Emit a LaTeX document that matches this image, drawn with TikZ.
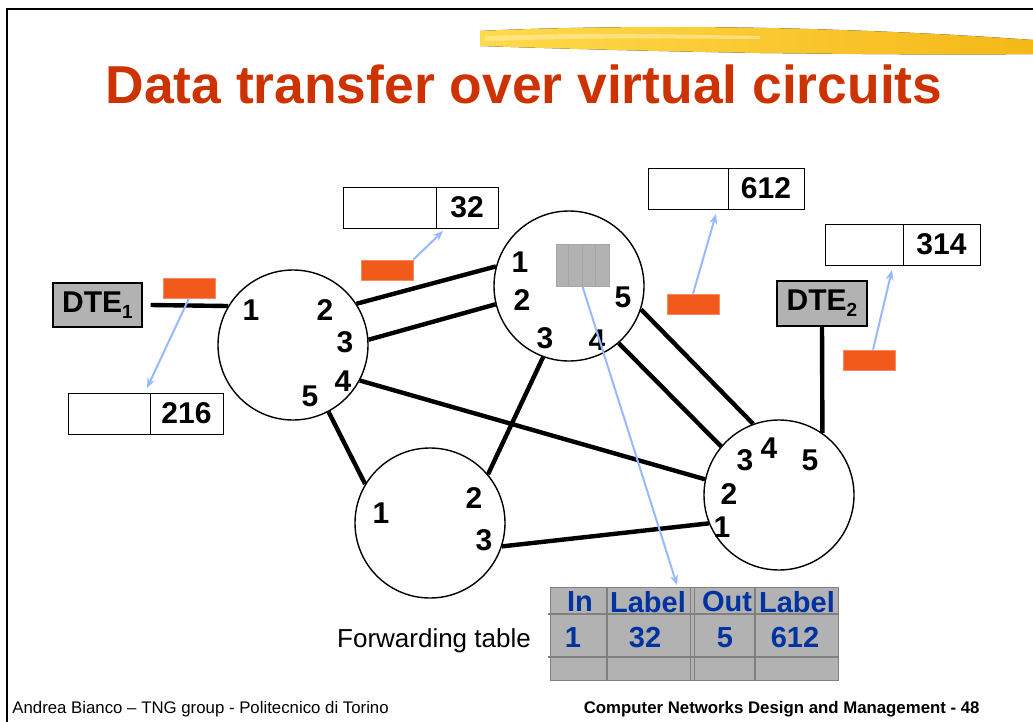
\documentclass[tikz,border=0pt]{standalone}
\usepackage{fontspec}
\setmainfont{Liberation Sans}
\usetikzlibrary{positioning,arrows.meta}

\definecolor{titlered}{RGB}{204,51,0}
\definecolor{pktorange}{RGB}{242,90,28}
\definecolor{hintblue}{RGB}{150,185,255}
\definecolor{tabblue}{RGB}{0,51,160}
\definecolor{boxgray}{RGB}{178,178,178}
\definecolor{brushA}{RGB}{255,218,75}
\definecolor{brushB}{RGB}{245,184,24}

\newcommand{\dtesub}[1]{\raisebox{-3pt}{\fontsize{9.5}{9.5}\selectfont #1}}

\tikzset{
  router/.style={circle, draw, line width=0.7pt, minimum size=75pt, inner sep=0pt},
  port/.style={font=\fontsize{15}{15}\selectfont\bfseries, inner sep=0pt},
  link/.style={line width=2.2pt},
  dte/.style={draw, fill=boxgray, line width=0.6pt, minimum width=44.5pt, minimum height=22pt, inner sep=0pt, font=\fontsize{15}{15}\selectfont\bfseries},
  pkt/.style={fill=pktorange, draw=pktorange!70!white, line width=0.3pt, minimum width=26pt, minimum height=10pt, inner sep=0pt},
  lblcell/.style={draw, line width=0.5pt, minimum height=20.5pt, inner sep=0pt, outer sep=0pt, font=\fontsize{15}{15}\selectfont\bfseries},
  hint/.style={draw=hintblue, line width=1pt, -{Stealth[length=5pt,width=4pt]}},
  tabtxt/.style={text=tabblue, font=\fontsize{14.5}{14.5}\selectfont\bfseries, inner sep=0pt},
  tabline/.style={draw=gray, line width=0.6pt},
}

\begin{document}
\begin{tikzpicture}[x=0.5pt,y=-0.5pt]

\useasboundingbox (0,0) rectangle (1033,722);

% slide frame and brush stroke
\draw[line width=1.4pt] (7,722) -- (7,9) -- (1033,9);
\fill[left color=brushA, right color=brushB] (480,31) .. controls (560,27) and (700,25) .. (840,30) .. controls (930,33) and (990,37) .. (1033,40) -- (1033,54) .. controls (950,55) and (850,54) .. (760,53) .. controls (640,51) and (540,48) .. (480,46) -- cycle;
\fill[brushA!50!white, opacity=0.6] (485,36) .. controls (600,33) .. (760,36) -- (760,39) .. controls (600,38) .. (485,41) -- cycle;

\node[anchor=base, text=titlered, font=\fontsize{26.7}{30}\selectfont\bfseries, inner sep=0pt] (title) at (524,104) {Data transfer over virtual circuits};

% switches
\node[router] (r1) at (293,345) {};
\node[router] (r2) at (569,286) {};
\node[router] (r3) at (430,523) {};
\node[router] (r4) at (779,495) {};

\foreach \n/\x/\y in {1/251/310, 2/325/310, 3/345/342, 4/343/381, 5/310/396}{%
  \node[port] (a\n) at (\x,\y) {\n};
}
\foreach \n/\x/\y in {1/520/262, 2/522/300, 3/545/338, 4/597/340, 5/623/297}{%
  \node[port] (b\n) at (\x,\y) {\n};
}
\foreach \n/\x/\y in {1/381/513, 2/474/498, 3/484/540}{%
  \node[port] (c\n) at (\x,\y) {\n};
}
\foreach \n/\x/\y in {1/722/527, 2/729/494, 3/745/460, 4/769/448, 5/810/460}{%
  \node[port] (d\n) at (\x,\y) {\n};
}

\node[dte] (dte1) at (97.5,305) {DTE\dtesub{1}};
\node[dte, minimum width=45pt, minimum height=22.5pt] (dte2) at (822,303.5) {DTE\dtesub{2}};

% links
\draw[link] ([xshift=4pt]dte1.east) -- (r1.149);
\draw[link] (r1.33) -- (r2.165);
\draw[link] (r1.4) -- (r2.194);
\draw[link] (r1.-28) -- (r4.168);
\draw[link] (r1.-62) -- (r3.149);
\draw[link] (r2.250) -- (r3.40);
\draw[link] (r2.-18) -- (r4.110);
\draw[link] (r2.-49) -- (r4.140);
\draw[link] (r3.-18) -- (r4.202);
\draw[link] (dte2.south) -- (r4.55);

% packets and their labels
\node[pkt] (pk1) at (189,288) {};
\node[pkt] (pk2) at (387,270) {};
\node[pkt] (pk3) at (693,304) {};
\node[pkt] (pk4) at (869,360) {};

\node[lblcell, minimum width=41pt, anchor=north west] (l216a) at (68,393) {};
\node[lblcell, minimum width=36.5pt, right=0pt of l216a] (l216b) {216};
\node[lblcell, minimum width=46.5pt, anchor=north west] (l32a) at (343,187) {};
\node[lblcell, minimum width=31pt, right=0pt of l32a] (l32b) {32};
\node[lblcell, minimum width=40pt, anchor=north west] (l612a) at (648,168) {};
\node[lblcell, minimum width=38pt, right=0pt of l612a] (l612b) {612};
\node[lblcell, minimum width=39pt, anchor=north west] (l314a) at (825,224) {};
\node[lblcell, minimum width=38.5pt, right=0pt of l314a] (l314b) {314};

\draw[hint] (pk1.south) -- ([xshift=-1.5pt,yshift=2.5pt]l216a.north east);
\draw[hint] (pk2.north east) -- ([xshift=3.5pt,yshift=-1.5pt]l32a.south east);
\draw[hint] (pk3.north) -- ([xshift=-6pt,yshift=-2.5pt]l612a.south east);
\draw[hint] ([xshift=2pt]pk4.north) -- ([xshift=-5.5pt,yshift=-2.5pt]l314a.south east);

% forwarding table
\node[fill=boxgray, draw=gray!70, line width=0.5pt, minimum width=26.5pt, minimum height=21pt, inner sep=0pt] (fw) at (582.5,265) {};
\foreach \k in {1,2,3}{%
  \draw[gray!70, line width=0.5pt] ([xshift=\k*6.625pt]fw.south west) -- ([xshift=\k*6.625pt]fw.north west);
}

\node[fill=boxgray, draw=gray, line width=0.6pt, minimum width=144pt, minimum height=46.5pt, anchor=north west, inner sep=0pt] (ftab) at (550,587) {};
\draw[tabline] (548,614) -- (838,614);
\draw[tabline] (548,657) -- (838,657);
\draw[tabline] (607,587) -- (607,680);
\draw[tabline] (690.5,587) -- (690.5,680);
\draw[tabline] (694.5,587) -- (694.5,680);
\draw[tabline] (755,587) -- (755,680);

\draw[hint] (fw.south) -- ([xshift=63.5pt,yshift=1pt]ftab.north west);

\foreach \nm/\x/\t in {h1/580/In, h2/648/Label, h3/727/Out, h4/797/Label}{%
  \node[tabtxt] (\nm) at (\x,602) {\t};
}
\foreach \nm/\x/\t in {v1/573/1, v2/645/32, v3/725/5, v4/795/612}{%
  \node[tabtxt] (\nm) at (\x,638) {\t};
}
\node[font=\fontsize{13}{13}\selectfont, inner sep=0pt] (fwlbl) at (434,641) {Forwarding table};

% footer
\node[anchor=base west, font=\fontsize{8.4}{9}\selectfont, inner sep=0pt] (footl) at (12,713) {Andrea Bianco -- TNG group - Politecnico di Torino};
\node[anchor=base east, font=\fontsize{8.4}{9}\selectfont\bfseries, inner sep=0pt] (footr) at (980,713) {Computer Networks Design and Management - 48};

\end{tikzpicture}
\end{document}
